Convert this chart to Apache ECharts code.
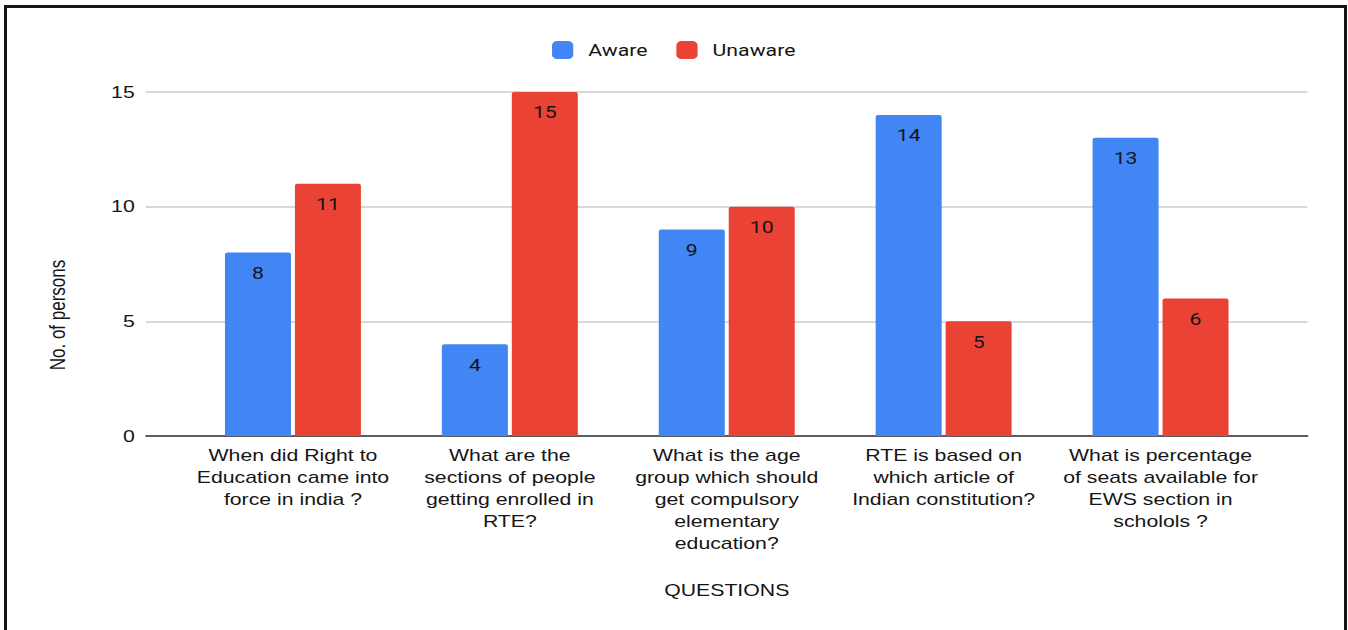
<!DOCTYPE html>
<html>
<head>
<meta charset="utf-8">
<title>RTE awareness survey</title>
<script src="https://cdn.jsdelivr.net/npm/echarts@6/dist/echarts.min.js"></script>
<style>
  html, body { margin: 0; padding: 0; background: #fff; overflow: hidden; }
  #page { position: relative; width: 1348px; height: 630px; overflow: hidden; background: #fff; }
  #frame { position: absolute; left: 4px; top: 5px; width: 1337px; height: 700px; border: 3px solid #151515; box-sizing: content-box; pointer-events: none; }
  /* the chart is laid out on a narrower canvas and widened to the page */
  #chart { position: absolute; left: 0; top: 0; width: 1078.4px; height: 630px; transform: scaleX(1.25); transform-origin: 0 0; }
</style>
</head>
<body>
<div id="page">
  <div id="chart"></div>
  <div id="frame"></div>
</div>
<script>
// Survey questions on the Right to Education Act
const questions = [
  'When did Right to\nEducation came into\nforce in india ?',
  'What are the\nsections of people\ngetting enrolled in\nRTE?',
  'What is the age\ngroup which should\nget compulsory\nelementary\neducation?',
  'RTE is based on\nwhich article of\nIndian constitution?',
  'What is percentage\nof seats available for\nEWS section in\nscholols ?'
];
// Number of persons who answered aware / unaware
const aware = [8, 4, 9, 14, 13];
const unaware = [11, 15, 10, 5, 6];
const yTicks = { min: 0, max: 15, interval: 5 };

const TEXT = '#151515';
const chart = echarts.init(document.getElementById('chart'), null, { renderer: 'svg' });

const valueLabel = {
  show: true,
  position: 'insideTop',
  distance: 12,
  color: TEXT,
  fontFamily: 'Roboto',
  fontSize: 17
};

chart.setOption({
  animation: false,
  backgroundColor: '#ffffff',
  legend: {
    top: 36,
    left: 'center',
    itemWidth: 17,
    itemHeight: 18,
    itemGap: 23,
    icon: 'roundRect',
    textStyle: { color: TEXT, fontFamily: 'Roboto', fontSize: 17, padding: [0, 0, 0, 7] },
    data: ['Aware', 'Unaware']
  },
  grid: [
    { left: 116.8, right: 32, top: 92, bottom: 194 },
    { left: 147.6, right: 62.8, top: 92, bottom: 194 }
  ],
  xAxis: [
    {
      type: 'category',
      gridIndex: 0,
      data: [''],
      axisLine: { show: true, lineStyle: { color: '#333333', width: 1.5 } },
      axisTick: { show: false },
      axisLabel: { show: false },
      name: 'QUESTIONS',
      nameLocation: 'middle',
      nameGap: 146,
      nameTextStyle: { color: TEXT, fontFamily: 'Liberation Sans', fontSize: 17 }
    },
    {
      type: 'category',
      gridIndex: 1,
      data: questions,
      axisLine: { show: false },
      axisTick: { show: false },
      axisLabel: {
        color: TEXT,
        fontFamily: 'Liberation Sans',
        fontSize: 17,
        lineHeight: 22,
        margin: 8,
        interval: 0,
        align: 'center'
      }
    }
  ],
  yAxis: [
    {
      type: 'value',
      gridIndex: 0,
      min: yTicks.min,
      max: yTicks.max,
      interval: yTicks.interval,
      axisLine: { show: false },
      axisTick: { show: false },
      splitLine: { lineStyle: { color: '#cccccc', width: 1.5 } },
      axisLabel: { color: TEXT, fontFamily: 'Liberation Sans', fontSize: 17, margin: 9 },
      name: 'No. of persons',
      nameLocation: 'middle',
      nameGap: 62,
      nameRotate: 90,
      nameTextStyle: { color: TEXT, fontFamily: 'Liberation Sans', fontSize: 17, padding: [0, 102, 0, 0] }
    },
    {
      type: 'value',
      gridIndex: 1,
      min: yTicks.min,
      max: yTicks.max,
      interval: yTicks.interval,
      show: false,
      splitLine: { show: false }
    }
  ],
  series: [
    {
      name: 'Aware',
      type: 'bar',
      xAxisIndex: 1,
      yAxisIndex: 1,
      data: aware,
      barWidth: 52.8,
      barGap: '6%',
      itemStyle: { color: '#4285F4', borderRadius: [2, 2, 0, 0] },
      label: valueLabel
    },
    {
      name: 'Unaware',
      type: 'bar',
      xAxisIndex: 1,
      yAxisIndex: 1,
      data: unaware,
      barWidth: 52.8,
      barGap: '6%',
      itemStyle: { color: '#EA4335', borderRadius: [2, 2, 0, 0] },
      label: valueLabel
    }
  ]
});
</script>
</body>
</html>
